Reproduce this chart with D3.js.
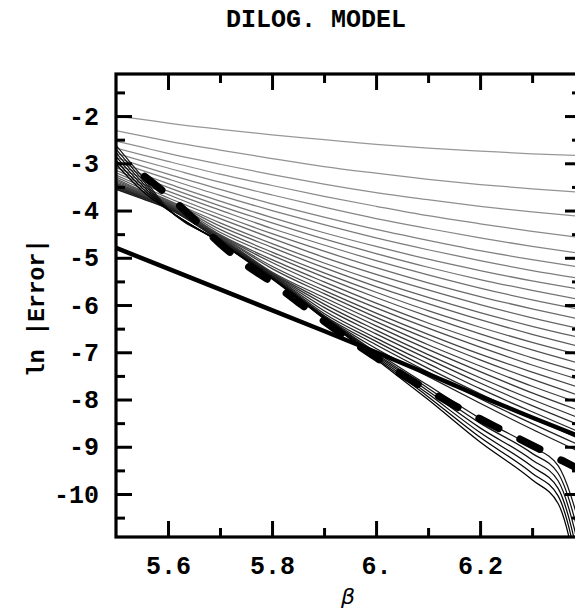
<!DOCTYPE html>
<html>
<head>
<meta charset="utf-8">
<script src="https://cdn.jsdelivr.net/npm/d3@7"></script>
<style>
  html, body { margin: 0; padding: 0; background: #fff; }
  svg { display: block; }
</style>
</head>
<body>
<script>
// ---------- data ----------
const betaGrid = [5.5, 5.55, 5.6, 5.7, 5.8, 5.9, 6.0, 6.1, 6.2, 6.3, 6.4];
const regularCurves = [
  [-2.00,-2.07,-2.15,-2.28,-2.40,-2.50,-2.60,-2.68,-2.74,-2.80,-2.84],
  [-2.31,-2.42,-2.53,-2.72,-2.90,-3.07,-3.21,-3.34,-3.45,-3.54,-3.62],
  [-2.53,-2.66,-2.79,-3.02,-3.24,-3.44,-3.62,-3.77,-3.91,-4.03,-4.13],
  [-2.68,-2.82,-2.96,-3.23,-3.47,-3.70,-3.91,-4.11,-4.28,-4.44,-4.58],
  [-2.79,-2.95,-3.10,-3.40,-3.67,-3.93,-4.17,-4.38,-4.58,-4.76,-4.92],
  [-2.88,-3.06,-3.23,-3.55,-3.86,-4.14,-4.40,-4.63,-4.85,-5.04,-5.21],
  [-2.96,-3.15,-3.33,-3.68,-4.00,-4.30,-4.58,-4.83,-5.06,-5.27,-5.45],
  [-3.03,-3.23,-3.43,-3.80,-4.15,-4.47,-4.76,-5.03,-5.27,-5.49,-5.68],
  [-3.09,-3.30,-3.51,-3.90,-4.26,-4.60,-4.91,-5.20,-5.46,-5.69,-5.90],
  [-3.15,-3.37,-3.59,-3.99,-4.38,-4.73,-5.06,-5.36,-5.64,-5.89,-6.11],
  [-3.20,-3.43,-3.66,-4.09,-4.49,-4.86,-5.21,-5.53,-5.82,-6.08,-6.32],
  [-3.25,-3.49,-3.73,-4.17,-4.59,-4.99,-5.35,-5.68,-5.99,-6.27,-6.52],
  [-3.29,-3.54,-3.78,-4.26,-4.70,-5.11,-5.49,-5.84,-6.16,-6.45,-6.71],
  [-3.33,-3.58,-3.79,-4.33,-4.78,-5.21,-5.61,-5.97,-6.31,-6.62,-6.90],
  [-3.36,-3.59,-3.80,-4.40,-4.88,-5.32,-5.73,-6.12,-6.47,-6.79,-7.08],
  [-3.39,-3.60,-3.81,-4.46,-4.95,-5.41,-5.84,-6.24,-6.61,-6.95,-7.26],
  [-3.42,-3.62,-3.83,-4.51,-5.04,-5.51,-5.96,-6.38,-6.76,-7.12,-7.44],
  [-3.43,-3.63,-3.84,-4.52,-5.10,-5.60,-6.06,-6.49,-6.89,-7.27,-7.61],
  [-3.44,-3.64,-3.85,-4.53,-5.18,-5.69,-6.17,-6.62,-7.04,-7.42,-7.78],
  [-3.45,-3.65,-3.86,-4.54,-5.23,-5.76,-6.26,-6.72,-7.16,-7.57,-7.95],
  [-3.46,-3.66,-3.87,-4.55,-5.30,-5.84,-6.35,-6.84,-7.29,-7.72,-8.11],
  [-3.48,-3.68,-3.89,-4.57,-5.32,-5.91,-6.44,-6.94,-7.41,-7.86,-8.27],
  [-3.49,-3.69,-3.90,-4.58,-5.33,-5.98,-6.53,-7.05,-7.54,-8.00,-8.43],
  [-3.50,-3.70,-3.91,-4.59,-5.34,-6.05,-6.61,-7.14,-7.65,-8.13,-8.58],
  [-3.51,-3.71,-3.92,-4.60,-5.35,-6.12,-6.70,-7.24,-7.77,-8.26,-8.73],
  [-3.52,-3.72,-3.93,-4.61,-5.36,-6.18,-6.77,-7.34,-7.88,-8.39,-8.87],
  [-3.54,-3.74,-3.95,-4.63,-5.38,-6.22,-6.84,-7.42,-7.98,-8.51,-9.01],
  [-3.55,-3.75,-3.96,-4.64,-5.39,-6.23,-6.92,-7.51,-8.08,-8.63,-9.15]
];
const plungeBeta = [5.5, 5.55, 5.6, 5.7, 5.8, 5.9, 6.0, 6.1, 6.2, 6.3, 6.35, 6.4];
const plungeCurves = [
  [-2.62,-3.28,-3.96,-4.65,-5.40,-6.24,-7.00,-7.70,-8.40,-9.00,-9.40,-11.0],
  [-2.70,-3.34,-3.97,-4.66,-5.41,-6.25,-7.03,-7.76,-8.50,-9.14,-9.56,-11.3],
  [-2.78,-3.40,-3.97,-4.66,-5.42,-6.26,-7.06,-7.82,-8.60,-9.28,-9.72,-11.6],
  [-2.86,-3.46,-3.98,-4.67,-5.43,-6.27,-7.09,-7.88,-8.70,-9.42,-9.88,-11.9],
  [-2.94,-3.52,-3.98,-4.67,-5.44,-6.28,-7.12,-7.94,-8.80,-9.56,-10.04,-12.2],
  [-3.02,-3.58,-3.99,-4.68,-5.45,-6.29,-7.15,-8.00,-8.90,-9.70,-10.20,-12.5]
];
const dashedBeta   = [5.555, 5.6, 5.65, 5.7, 5.75, 5.8, 5.85, 5.9, 5.95, 6.0, 6.05, 6.1, 6.15, 6.2, 6.25, 6.3, 6.35, 6.4];
const dashedValues = [-3.28,-3.68,-4.18,-4.70,-5.15,-5.52,-5.94,-6.34,-6.74,-7.11,-7.47,-7.80,-8.12,-8.41,-8.69,-8.97,-9.25,-9.53];
const thickBeta   = [5.5, 5.7, 5.9, 6.0, 6.1, 6.2, 6.3, 6.4];
const thickValues = [-4.79,-5.67,-6.55,-7.00,-7.46,-7.93,-8.38,-8.82];

const xMajorTicks = [5.6, 5.8, 6.0, 6.2];
const xTickLabels = ["5.6", "5.8", "6.", "6.2"];
const xMinorTicks = [5.7, 5.9, 6.1, 6.3];
const yMajorTicks = [-10, -9, -8, -7, -6, -5, -4, -3, -2];
const yMinorTicks = [-10.5, -9.5, -8.5, -7.5, -6.5, -5.5, -4.5, -3.5, -2.5, -1.5];

const titleText = "DILOG. MODEL";
const xLabel = "\u03B2";
const yLabel = "ln |Error|";

// ---------- layout ----------
const W = 575, H = 611;
const L = 116, R = 581, T = 74, B = 537;
const monoFont = "'Courier New', 'Liberation Mono', monospace";

const svg = d3.select("body").append("svg")
  .attr("width", W).attr("height", H)
  .attr("viewBox", `0 0 ${W} ${H}`);

const x = d3.scaleLinear().domain([5.5, 6.394]).range([L, R]);
const y = d3.scaleLinear().domain([-10.91, -1.11]).range([B, T]);

svg.append("defs").append("clipPath").attr("id", "plotclip")
  .append("rect").attr("x", L).attr("y", T).attr("width", R - L).attr("height", B - T);

const plot = svg.append("g").attr("clip-path", "url(#plotclip)");

const nAll = regularCurves.length + plungeCurves.length;
const grayOf = i => {
  const g = Math.round(152 * (1 - i / (nAll - 1)));
  return `rgb(${g},${g},${g})`;
};

const lineGen = d3.line().curve(d3.curveMonotoneX);

regularCurves.forEach((vals, i) => {
  plot.append("path")
    .attr("d", lineGen(vals.map((v, j) => [x(betaGrid[j]), y(v)])))
    .attr("fill", "none")
    .attr("stroke", grayOf(i))
    .attr("stroke-width", 1.25);
});
plungeCurves.forEach((vals, i) => {
  plot.append("path")
    .attr("d", lineGen(vals.map((v, j) => [x(plungeBeta[j]), y(v)])))
    .attr("fill", "none")
    .attr("stroke", grayOf(regularCurves.length + i))
    .attr("stroke-width", 1.25);
});

// thick solid line
plot.append("path")
  .attr("d", d3.line().curve(d3.curveMonotoneX)(thickValues.map((v, j) => [x(thickBeta[j]), y(v)])))
  .attr("fill", "none").attr("stroke", "#000").attr("stroke-width", 4.5);

// thick dashed line
plot.append("path")
  .attr("d", d3.line().curve(d3.curveMonotoneX)(dashedValues.map((v, j) => [x(dashedBeta[j]), y(v)])))
  .attr("fill", "none").attr("stroke", "#000").attr("stroke-width", 7.5)
  .attr("stroke-linecap", "round")
  .attr("stroke-dasharray", "22,24");

// ---------- axes ----------
function styleAxis(g) {
  g.select(".domain").remove();
  g.selectAll(".tick line").attr("stroke", "#000").attr("stroke-width", 3);
  g.selectAll(".tick text")
    .attr("fill", "#000")
    .style("font-family", monoFont)
    .style("font-weight", "bold")
    .style("font-size", "25px");
}

svg.append("g").attr("transform", `translate(0,${B})`)
  .call(d3.axisBottom(x).tickValues(xMajorTicks).tickSize(-16).tickPadding(19)
    .tickFormat((d, i) => xTickLabels[i]))
  .call(styleAxis);
svg.append("g").attr("transform", `translate(0,${B})`)
  .call(d3.axisBottom(x).tickValues(xMinorTicks).tickSize(-9).tickFormat(""))
  .call(styleAxis);
svg.append("g").attr("transform", `translate(0,${T})`)
  .call(d3.axisTop(x).tickValues(xMajorTicks).tickSize(-16).tickFormat(""))
  .call(styleAxis);
svg.append("g").attr("transform", `translate(0,${T})`)
  .call(d3.axisTop(x).tickValues(xMinorTicks).tickSize(-9).tickFormat(""))
  .call(styleAxis);

svg.append("g").attr("transform", `translate(${L},0)`)
  .call(d3.axisLeft(y).tickValues(yMajorTicks).tickSize(-16).tickPadding(17)
    .tickFormat(d => String(d)))
  .call(styleAxis);
svg.append("g").attr("transform", `translate(${L},0)`)
  .call(d3.axisLeft(y).tickValues(yMinorTicks).tickSize(-9).tickFormat(""))
  .call(styleAxis);
svg.append("g").attr("transform", `translate(${R},0)`)
  .call(d3.axisRight(y).tickValues(yMajorTicks).tickSize(-16).tickFormat(""))
  .call(styleAxis);
svg.append("g").attr("transform", `translate(${R},0)`)
  .call(d3.axisRight(y).tickValues(yMinorTicks).tickSize(-9).tickFormat(""))
  .call(styleAxis);

// frame
svg.append("rect")
  .attr("x", L).attr("y", T).attr("width", R - L).attr("height", B - T)
  .attr("fill", "none").attr("stroke", "#000").attr("stroke-width", 3.2);

// ---------- labels ----------
svg.append("text")
  .attr("x", 316).attr("y", 27)
  .attr("text-anchor", "middle")
  .style("font-family", monoFont).style("font-weight", "bold").style("font-size", "25px")
  .text(titleText);

svg.append("text")
  .attr("x", 348).attr("y", 604)
  .attr("text-anchor", "middle")
  .style("font-family", "'DejaVu Sans', sans-serif").style("font-style", "italic")
  .style("font-size", "22px")
  .text(xLabel);

svg.append("text")
  .attr("transform", "translate(44,308) rotate(-90)")
  .attr("text-anchor", "middle")
  .style("font-family", monoFont).style("font-weight", "bold").style("font-size", "23px")
  .text(yLabel);
</script>
</body>
</html>
